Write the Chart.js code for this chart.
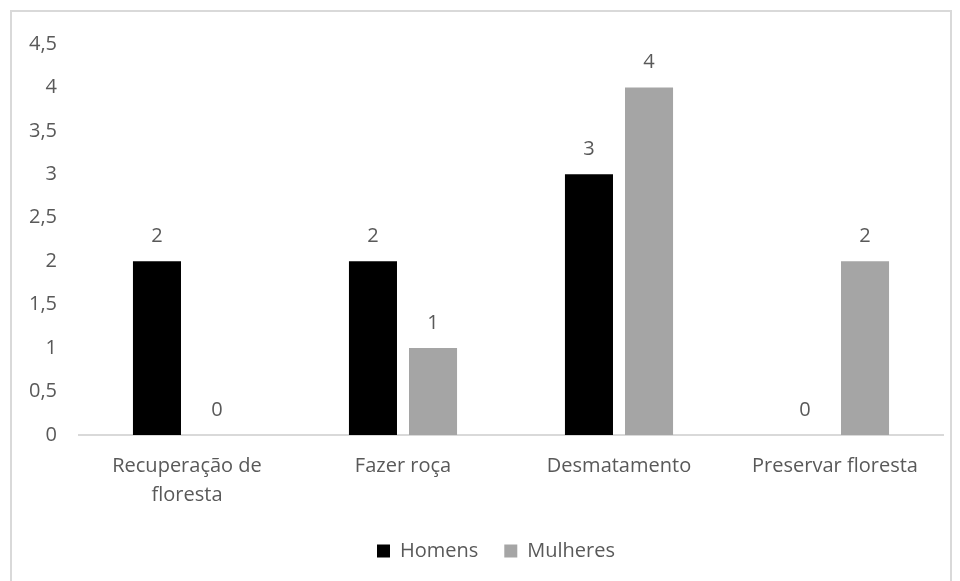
<!DOCTYPE html>
<html>
<head>
<meta charset="utf-8">
<script src="https://cdn.jsdelivr.net/npm/chart.js@4.4.0/dist/chart.umd.min.js"></script>
<style>
  body { margin: 0; background: #fff; }
  #frame { position: absolute; left: 10px; top: 10px; width: 938px; height: 580px; border: 2px solid #d9d9d9; border-bottom: none; }
  #wrap { position: absolute; left: 0; top: 0; width: 960px; height: 581px; }
</style>
</head>
<body>
<div id="frame"></div>
<div id="wrap"><canvas id="chart"></canvas></div>
<script>
var categories = [['Recuperação de', 'floresta'], 'Fazer roça', 'Desmatamento', 'Preservar floresta'];
var homens = [2, 2, 3, 0];
var mulheres = [0, 1, 4, 2];
var yTicks = [0, 0.5, 1, 1.5, 2, 2.5, 3, 3.5, 4, 4.5];

var textColor = '#595959';
var fontFamily = '"Open Sans", "Noto Sans", sans-serif';
var fontSize = 20;

// draw the value above every bar
var valueLabels = {
  id: 'valueLabels',
  afterDatasetsDraw: function (chart) {
    var ctx = chart.ctx;
    ctx.save();
    ctx.font = fontSize + 'px ' + fontFamily;
    ctx.fillStyle = textColor;
    ctx.textAlign = 'center';
    ctx.textBaseline = 'middle';
    chart.data.datasets.forEach(function (ds, i) {
      var meta = chart.getDatasetMeta(i);
      meta.data.forEach(function (bar, j) {
        ctx.fillText(String(ds.data[j]), bar.x, bar.y - 25);
      });
    });
    ctx.restore();
  }
};

// legend sits a bit right of centre, like the original
var legendShift = {
  id: 'legendShift',
  afterLayout: function (chart) {
    chart.legend.left += 22;
    chart.legend.right += 22;
  }
};

var ctx = document.getElementById('chart').getContext('2d');
var myChart = new Chart(ctx, {
  type: 'bar',
  data: {
    labels: categories,
    datasets: [{
      label: 'Homens',
      data: homens,
      backgroundColor: '#000000',
      categoryPercentage: 0.556,
      barPercentage: 0.8
    }, {
      label: 'Mulheres',
      data: mulheres,
      backgroundColor: '#a5a5a5',
      categoryPercentage: 0.556,
      barPercentage: 0.8
    }]
  },
  options: {
    responsive: true,
    maintainAspectRatio: false,
    animation: false,
    layout: { padding: { left: 5, right: 17, top: 44, bottom: 10 } },
    plugins: {
      legend: {
        position: 'bottom',
        labels: {
          color: textColor,
          font: { family: fontFamily, size: fontSize },
          boxWidth: 13,
          boxHeight: 13,
          padding: 26
        }
      },
      tooltip: { enabled: false }
    },
    scales: {
      x: {
        grid: { display: false, drawTicks: false },
        border: { color: '#d9d9d9', width: 2 },
        ticks: {
          color: textColor,
          font: { family: fontFamily, size: fontSize, lineHeight: 1.45 },
          padding: 17,
          maxRotation: 0
        },
        afterFit: function (scale) { scale.height = 80; }
      },
      y: {
        min: 0,
        max: 4.5,
        grid: { display: false, drawTicks: false },
        border: { display: false },
        afterBuildTicks: function (scale) {
          scale.ticks = yTicks.map(function (v) { return { value: v }; });
        },
        ticks: {
          color: textColor,
          font: { family: fontFamily, size: fontSize },
          padding: 22,
          callback: function (v) { return String(v).replace('.', ','); }
        },
        afterFit: function (scale) { scale.width = 74; }
      }
    }
  },
  plugins: [valueLabels, legendShift]
});
</script>
</body>
</html>
